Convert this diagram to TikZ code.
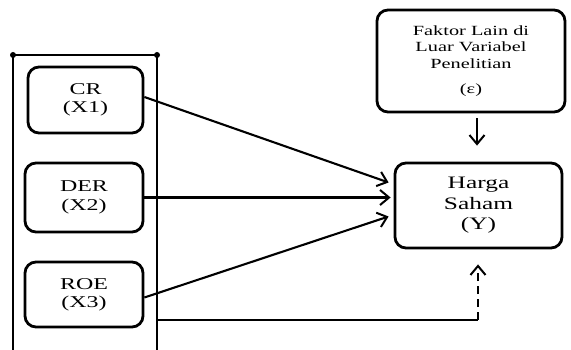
\documentclass[tikz,border=0pt]{standalone}
\usepackage{fontspec}
\setmainfont{Liberation Serif}[FakeStretch=1.45]
\usetikzlibrary{calc, arrows.meta}

\tikzset{
  varbox/.style={draw, line width=2.8pt, rounded corners=11pt, align=center,
    inner sep=0pt, font=\fontsize{16.5}{18.4}\selectfont},
  link/.style={-{Straight Barb[length=9pt, width=15pt, line width=2pt]}, line width=2.1pt},
}

\begin{document}
\begin{tikzpicture}[x=1pt, y=-1pt]

    % page size of the reference
    \useasboundingbox (0,0) rectangle (571,350);

    % ==========================================
    % FRAME ROUND THE INDEPENDENT VARIABLES
    % ==========================================
    \draw[line width=2.8pt] (13,350) -- (13,55) -- (157,55) -- (157,350);
    \fill (13,55) circle (3pt) (157,55) circle (3pt);
    \coordinate (frameR) at (157,320);

    % Independent variables
    \node[varbox, minimum width=115pt, minimum height=66pt] (cr)  at (85.5,100) {CR\\(X1)};
    \node[varbox, minimum width=118pt, minimum height=69pt] (der) at (84,197.5) {DER\\(X2)};
    \node[varbox, minimum width=118pt, minimum height=65pt] (roe) at (84,294.5) {ROE\\(X3)};

    % ==========================================
    % DEPENDENT VARIABLE AND OTHER FACTORS
    % ==========================================
    \node[varbox, minimum width=188pt, minimum height=102pt,
      font=\fontsize{14}{16.5}\selectfont] (eps) at (471,61)
      {Faktor Lain di\\Luar Variabel\\Penelitian\\[8.5pt](ε)};
    \node[varbox, minimum width=167pt, minimum height=85pt,
      font=\fontsize{17.5}{20.5}\selectfont] (y) at (478.5,205.5)
      {Harga\\Saham\\(Y)};

    % Arrows into Y
    \draw[link] ($(cr.east)+(0,-3)$) -- ($(y.west)+(-5,-23)$);
    \draw[link] (der.east) -- ($(der.east -| y.west)+(-3,0)$);
    \draw[link] ($(roe.east)+(0,3)$) -- ($(y.west)+(-5,11)$);
    \draw[link] ($(eps.south)+(6,5)$) -- ($(y.north)+(-1.5,-16)$);

    % Dashed link from the frame
    \coordinate (yin) at ($(y.south)+(-0.5,15)$);
    \draw[line width=2.1pt] (frameR) -- (frameR -| yin);
    \draw[link, dash pattern=on 8pt off 5pt] (frameR -| yin) -- (yin);

\end{tikzpicture}
\end{document}
